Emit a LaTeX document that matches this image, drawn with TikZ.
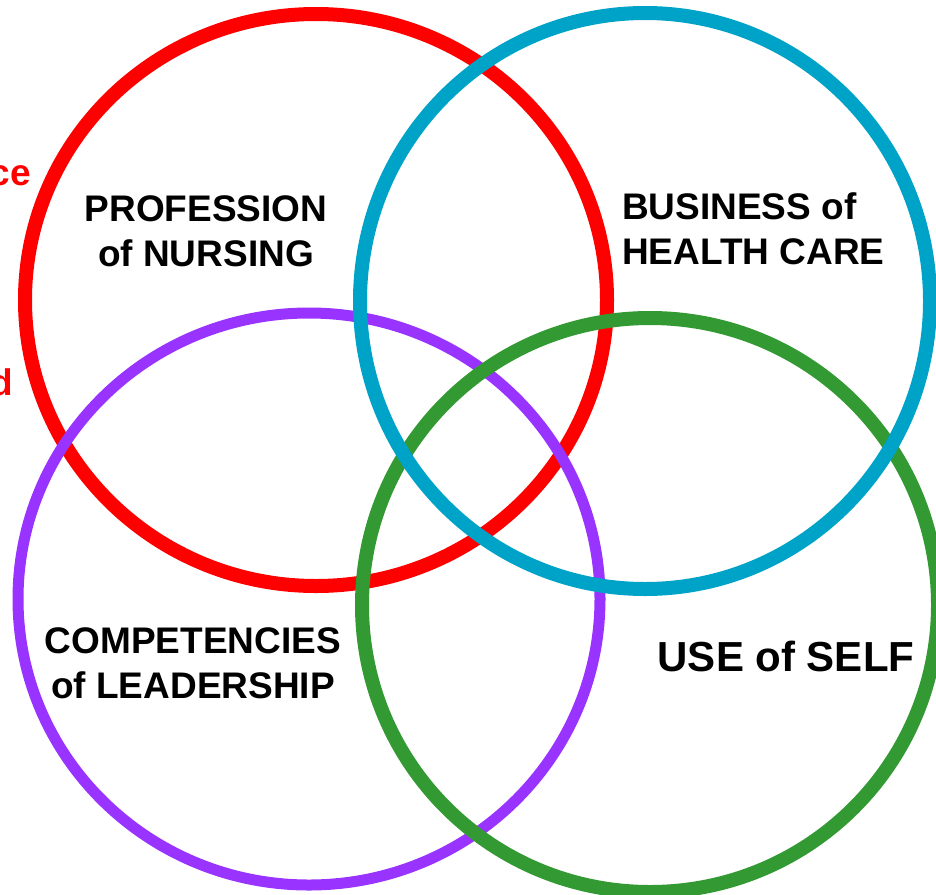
\documentclass[tikz,border=0pt]{standalone}
\usepackage{fontspec}
\setmainfont{Liberation Sans}
\usepackage{xcolor}
\definecolor{nursered}{RGB}{255,0,0}
\definecolor{careblue}{RGB}{0,163,200}
\definecolor{selfgreen}{RGB}{51,153,51}
\definecolor{leadpurple}{RGB}{153,51,255}

\tikzset{
    ring/.style={line width=14pt},
    areatext/.style={inner sep=0pt, align=center, font=\fontsize{37}{45.5}\selectfont\bfseries},
}

\begin{document}
\begin{tikzpicture}[x=1pt, y=-1pt]
    \useasboundingbox (0,0) rectangle (936,894);
    % the four rings
    \draw[ring, nursered] (316,300) ellipse [x radius=291pt, y radius=286pt];
    \draw[ring, leadpurple, line width=11pt] (309,599) ellipse [x radius=291pt, y radius=286pt];
    \draw[ring, selfgreen] (650,605) ellipse [x radius=288pt, y radius=287pt];
    \draw[ring, careblue] (645,301) ellipse [x radius=285pt, y radius=288pt];
    % labels
    \node[areatext, anchor=north] (nursing) at (206,195) {PROFESSION\\of NURSING};
    \node[areatext, anchor=north west, align=left] (business) at (622,192) {BUSINESS of\\HEALTH CARE};
    \node[areatext, anchor=north] (leadership) at (193,627) {COMPETENCIES\\of LEADERSHIP};
    \node[areatext, anchor=north, font=\fontsize{42}{50}\selectfont\bfseries] (self) at (786,641) {USE of SELF};
    \node[areatext, anchor=base east, text=nursered] (cut1) at (31,185) {ce};
    \node[areatext, anchor=base east, text=nursered] (cut2) at (13,395) {d};
\end{tikzpicture}
\end{document}
